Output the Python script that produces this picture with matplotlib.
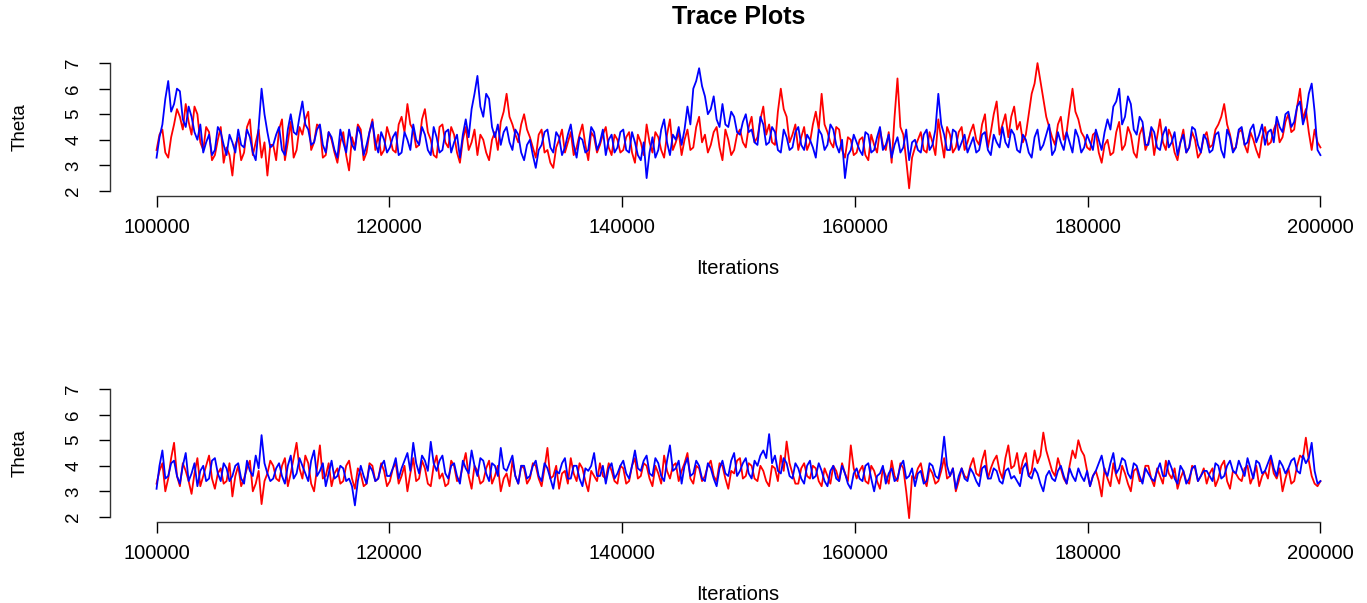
import numpy as np
import matplotlib.pyplot as plt

plt.rcParams['font.family'] = ['Liberation Sans', 'DejaVu Sans']

# trace values, one every 500 iterations (100000, 100500, ...)
theta1_chain1 = [
    3.6, 4.4, 3.3, 4.6, 4.9, 5.4, 4.2, 5.0, 3.6, 4.3, 3.4, 4.5, 3.7, 2.6, 4.1, 3.5, 4.8, 3.9, 3.3, 2.6,
    3.8, 4.4, 3.2, 4.7, 3.6, 4.2, 5.1, 3.9, 4.5, 3.4, 4.0, 3.1, 4.3, 2.8, 3.7, 4.4, 3.5, 4.8, 4.2, 3.6,
    4.1, 3.5, 4.9, 5.4, 4.4, 3.8, 5.2, 4.0, 3.3, 4.6, 3.7, 4.2, 3.1, 4.5, 3.9, 3.4, 4.0, 3.2, 4.3, 4.7,
    5.8, 4.6, 3.9, 5.0, 4.1, 3.3, 4.4, 3.6, 2.9, 4.0, 3.5, 4.3, 3.7, 4.6, 3.2, 4.1, 3.8, 4.5, 3.4, 4.0,
    3.6, 4.3, 3.1, 3.9, 4.6, 3.5, 4.1, 3.3, 4.8, 3.9, 3.4, 4.4, 3.7, 4.9, 4.2, 3.8, 4.5, 3.2, 4.0, 3.6,
    4.4, 3.7, 4.9, 4.1, 5.3, 4.6, 3.8, 6.0, 4.9, 4.2, 3.6, 4.5, 3.9, 5.1, 5.8, 4.3, 3.7, 4.4, 3.3, 4.0,
    3.5, 4.1, 3.2, 3.8, 4.4, 3.6, 3.1, 6.4, 4.2, 2.1, 3.7, 4.3, 3.5, 3.9, 4.8, 3.3, 4.2, 3.7, 4.5, 3.9,
    4.6, 3.8, 5.0, 4.3, 5.5, 4.6, 4.1, 5.3, 4.7, 4.2, 5.8, 7.0, 5.6, 4.5, 3.8, 4.9, 4.3, 6.0, 4.8, 4.1,
    3.6, 4.3, 3.1, 4.0, 3.5, 4.7, 3.8, 4.2, 3.3, 4.5, 3.9, 3.4, 4.8, 3.6, 4.1, 3.2, 4.4, 3.7, 4.0, 3.5,
    4.3, 3.8, 4.6, 5.4, 4.2, 3.7, 4.4, 3.5, 4.0, 3.3, 4.5, 3.9, 4.7, 4.1, 5.0, 4.4, 6.0, 5.2, 3.6, 3.9,
]
# values in between (100250, 100750, ...)
theta1_chain1_mid = [
    4.2, 3.5, 4.1, 5.2, 4.4, 4.7, 5.3, 3.9, 4.5, 3.2, 4.0, 3.1, 3.4, 3.8, 3.2, 4.5, 3.4, 4.4, 3.9, 3.8,
    3.2, 4.8, 3.9, 3.3, 4.5, 4.8, 3.6, 4.6, 3.3, 4.3, 3.5, 3.9, 3.4, 4.1, 4.6, 3.2, 4.3, 3.6, 3.4, 4.5,
    3.6, 4.6, 4.3, 4.6, 3.7, 4.8, 4.3, 3.4, 4.5, 3.9, 4.5, 3.5, 4.0, 3.6, 4.4, 4.2, 3.5, 4.0, 3.6, 5.1,
    4.9, 4.2, 4.6, 4.4, 3.7, 4.2, 3.5, 3.1, 3.7, 4.4, 3.9, 3.4, 4.2, 3.8, 4.3, 3.5, 4.2, 3.7, 4.2, 3.5,
    4.1, 3.5, 4.2, 3.4, 3.9, 4.3, 3.6, 4.2, 3.6, 4.3, 4.0, 3.6, 4.5, 3.9, 3.5, 4.3, 3.7, 4.4, 3.4, 4.2,
    3.9, 4.5, 3.9, 4.8, 4.2, 3.9, 5.1, 5.2, 3.9, 4.6, 4.1, 3.6, 4.6, 4.4, 4.6, 3.9, 4.5, 3.6, 4.1, 3.4,
    4.0, 3.4, 4.2, 3.5, 3.8, 4.3, 4.9, 4.5, 3.2, 3.3, 4.0, 3.6, 4.3, 3.4, 4.0, 4.5, 3.5, 4.3, 3.6, 4.3,
    4.0, 4.6, 3.7, 5.0, 4.2, 5.0, 4.9, 4.4, 3.9, 5.0, 6.2, 6.3, 4.9, 4.1, 4.6, 4.0, 5.2, 5.1, 4.3, 3.7,
    4.2, 3.5, 3.8, 3.4, 4.3, 3.6, 4.5, 3.5, 4.2, 3.6, 4.4, 4.1, 3.9, 4.4, 3.5, 3.9, 3.5, 4.3, 3.3, 4.1,
    3.7, 4.4, 4.9, 4.6, 3.6, 4.3, 3.8, 4.3, 3.6, 4.1, 3.8, 4.4, 3.9, 4.7, 4.3, 5.3, 4.8, 4.3, 4.4, 3.7,
]
theta1_chain2 = [
    3.3, 4.6, 6.3, 5.4, 5.9, 4.5, 4.9, 4.0, 3.5, 4.2, 3.6, 4.3, 3.4, 3.9, 4.4, 3.7, 4.1, 3.2, 6.0, 4.3,
    3.8, 4.5, 3.4, 5.0, 4.2, 5.5, 4.4, 3.9, 4.6, 3.5, 4.1, 3.3, 3.9, 4.4, 3.6, 4.2, 3.8, 4.7, 3.5, 4.0,
    3.7, 4.3, 3.5, 4.0, 4.6, 3.8, 4.2, 3.4, 4.1, 3.6, 4.4, 3.9, 3.3, 4.8, 5.2, 6.5, 4.9, 5.6, 4.1, 3.8,
    4.5, 3.6, 4.2, 3.2, 4.0, 2.9, 3.8, 4.4, 3.5, 4.1, 3.7, 4.6, 3.3, 4.0, 3.6, 4.3, 3.9, 3.4, 4.2, 3.7,
    4.4, 3.5, 3.9, 3.2, 2.5, 4.1, 3.6, 4.8, 3.4, 4.0, 3.8, 5.3, 6.0, 6.8, 5.7, 5.2, 4.8, 5.4, 4.5, 4.9,
    4.2, 5.0, 4.4, 3.8, 4.6, 3.9, 4.3, 3.5, 4.1, 3.7, 4.5, 3.6, 4.0, 3.3, 4.2, 3.8, 4.4, 3.5, 2.5, 3.6,
    3.9, 3.4, 4.2, 3.6, 4.5, 3.8, 3.3, 4.1, 3.7, 3.2, 4.0, 3.5, 4.4, 3.8, 5.8, 4.2, 3.6, 4.3, 3.9, 3.5,
    4.1, 3.6, 4.3, 3.4, 3.9, 4.5, 3.7, 4.2, 3.5, 4.0, 3.3, 4.4, 3.8, 4.6, 3.6, 3.9, 4.3, 3.5, 4.1, 3.7,
    3.9, 4.4, 3.6, 4.8, 5.3, 6.0, 4.9, 5.4, 4.2, 4.7, 3.8, 4.3, 3.6, 4.5, 3.9, 3.4, 4.2, 3.7, 4.4, 3.5,
    4.0, 3.6, 4.3, 3.3, 4.1, 3.7, 4.5, 3.9, 4.6, 4.2, 3.8, 4.4, 4.9, 4.3, 5.1, 4.7, 5.5, 5.0, 6.2, 3.6,
]
theta1_chain2_mid = [
    4.1, 5.6, 5.1, 6.0, 4.8, 5.3, 4.3, 4.6, 3.9, 3.4, 4.5, 3.8, 4.2, 3.5, 3.8, 4.4, 3.5, 4.5, 5.0, 3.7,
    4.2, 3.6, 4.4, 4.3, 4.9, 4.6, 3.8, 4.4, 3.8, 4.3, 3.6, 4.4, 3.5, 3.8, 4.5, 3.4, 4.3, 3.9, 4.3, 3.5,
    4.1, 3.4, 4.3, 3.6, 4.0, 4.5, 3.6, 4.5, 3.5, 4.3, 3.5, 4.2, 4.2, 4.1, 5.8, 5.3, 5.8, 4.5, 4.6, 4.3,
    3.9, 4.4, 3.5, 3.8, 3.4, 3.6, 4.3, 3.7, 4.3, 3.4, 4.2, 3.8, 4.1, 3.5, 4.5, 3.6, 4.4, 4.0, 3.5, 4.3,
    3.6, 4.3, 3.4, 3.9, 3.5, 3.3, 4.4, 3.9, 4.2, 4.5, 4.4, 4.6, 6.3, 6.1, 5.0, 5.7, 4.5, 4.6, 5.1, 4.3,
    4.7, 4.3, 3.9, 4.9, 3.8, 4.5, 3.6, 4.4, 3.6, 4.3, 3.8, 4.2, 3.7, 4.4, 3.6, 4.6, 3.8, 4.0, 3.4, 4.2,
    3.6, 4.3, 3.5, 4.1, 3.6, 4.2, 3.8, 3.5, 4.4, 3.9, 3.6, 4.2, 3.6, 4.4, 4.6, 3.6, 4.4, 3.6, 4.2, 3.8,
    3.5, 4.2, 3.6, 4.2, 3.7, 3.9, 4.4, 3.6, 4.2, 3.5, 4.1, 3.6, 4.2, 3.4, 4.3, 3.6, 3.9, 4.4, 3.5, 4.2,
    3.6, 4.0, 4.3, 4.4, 5.5, 4.6, 5.7, 4.4, 4.9, 3.8, 4.5, 3.7, 4.2, 3.7, 4.3, 3.9, 3.5, 4.5, 3.8, 4.2,
    3.5, 4.2, 3.6, 4.4, 3.5, 4.4, 3.8, 4.4, 3.9, 4.6, 4.3, 3.9, 4.5, 5.0, 4.5, 5.3, 4.6, 5.8, 5.1, 3.4,
]
theta2_chain1 = [
    3.3, 4.1, 3.5, 4.9, 3.2, 3.8, 2.9, 4.3, 3.6, 4.4, 3.1, 3.9, 3.4, 2.8, 4.0, 3.5, 4.2, 3.3, 2.5, 3.7,
    4.0, 3.4, 4.3, 3.7, 4.9, 3.5, 4.1, 3.0, 4.8, 3.6, 3.2, 3.9, 3.4, 4.2, 3.1, 3.7, 3.3, 4.0, 3.5, 3.8,
    3.4, 4.1, 3.6, 3.0, 4.3, 3.5, 3.9, 3.2, 4.4, 3.7, 3.3, 4.0, 3.5, 4.5, 3.1, 3.8, 3.4, 4.2, 3.6, 3.0,
    3.7, 4.2, 3.3, 3.9, 3.5, 4.0, 3.2, 4.7, 3.6, 3.1, 3.8, 4.3, 3.4, 3.9, 3.0, 3.6, 4.1, 3.5, 3.8, 3.3,
    3.9, 3.4, 4.3, 3.6, 4.0, 3.2, 3.7, 4.4, 3.5, 4.1, 3.8, 4.5, 3.3, 3.9, 3.6, 4.2, 3.4, 4.0, 3.1, 3.7,
    4.3, 3.6, 4.0, 3.4, 3.8, 3.2, 3.9, 4.4, 4.95, 3.7, 3.3, 4.1, 3.5, 3.9, 3.2, 3.6, 4.0, 3.4, 3.7, 4.8,
    3.5, 4.0, 3.3, 3.8, 3.1, 3.6, 4.2, 3.4, 3.9, 1.95, 3.5, 4.1, 3.2, 3.7, 3.4, 4.3, 3.6, 3.0, 3.9, 3.5,
    4.3, 3.6, 4.6, 3.9, 4.4, 3.5, 4.8, 4.0, 3.7, 4.5, 3.8, 4.1, 5.3, 4.2, 3.6, 3.9, 3.3, 4.6, 5.0, 4.4,
    3.2, 3.8, 2.8, 3.5, 4.1, 3.3, 3.7, 3.0, 3.9, 3.4, 4.0, 3.2, 3.6, 4.2, 3.5, 3.1, 3.8, 3.3, 3.9, 3.6,
    3.3, 3.9, 3.5, 4.2, 3.1, 3.7, 3.4, 4.0, 3.6, 3.2, 3.8, 4.3, 3.5, 3.0, 3.9, 3.4, 4.4, 5.1, 3.6, 3.2,
]
theta2_chain1_mid = [
    3.8, 3.0, 4.3, 3.6, 4.1, 3.4, 3.7, 3.2, 4.0, 3.5, 3.7, 3.3, 4.1, 3.6, 3.2, 3.9, 3.0, 3.8, 3.4, 4.2,
    3.5, 4.0, 3.2, 4.3, 3.9, 4.4, 3.3, 3.9, 3.5, 4.1, 3.7, 3.3, 4.0, 3.5, 3.9, 3.2, 4.1, 3.4, 4.1, 3.2,
    3.9, 3.3, 4.0, 3.7, 3.4, 4.2, 3.3, 4.0, 3.5, 3.2, 4.2, 3.4, 4.0, 3.6, 4.0, 3.3, 3.9, 3.3, 4.0, 3.5,
    3.2, 3.6, 4.0, 3.3, 4.1, 3.5, 3.9, 3.5, 4.0, 3.7, 3.3, 3.7, 4.1, 3.4, 3.8, 3.4, 3.6, 4.1, 3.4, 4.0,
    3.3, 4.0, 3.5, 4.1, 3.5, 4.0, 3.3, 3.8, 4.0, 3.4, 4.1, 3.5, 4.0, 3.4, 4.0, 3.6, 4.1, 3.5, 3.8, 4.2,
    3.5, 4.1, 3.5, 4.0, 3.4, 4.0, 3.4, 3.8, 4.1, 3.3, 3.9, 3.6, 4.0, 3.4, 3.9, 3.3, 3.8, 4.1, 3.4, 3.9,
    3.8, 3.4, 4.0, 3.4, 3.9, 3.3, 3.6, 4.1, 3.0, 3.6, 3.9, 3.5, 3.9, 3.3, 3.8, 3.5, 3.9, 3.4, 3.6, 4.0,
    3.7, 4.2, 3.5, 4.2, 3.8, 4.3, 3.9, 4.5, 4.2, 3.6, 4.6, 4.4, 4.6, 3.8, 4.3, 3.5, 4.0, 4.3, 4.6, 3.8,
    3.6, 3.4, 3.9, 3.2, 3.6, 4.0, 3.3, 3.8, 3.4, 4.0, 3.5, 3.9, 3.3, 3.7, 3.9, 3.5, 3.4, 4.0, 3.4, 3.9,
    3.7, 3.2, 4.0, 3.4, 3.8, 3.5, 3.9, 3.3, 4.0, 3.6, 3.5, 3.7, 3.9, 3.5, 3.3, 4.0, 4.3, 4.2, 3.3, 3.4,
]
theta2_chain2 = [
    3.1, 4.6, 3.6, 4.2, 3.3, 4.5, 3.7, 3.2, 4.0, 3.5, 4.3, 3.4, 3.9, 3.6, 4.1, 3.3, 3.8, 4.4, 5.2, 3.7,
    3.5, 4.1, 3.3, 4.4, 3.7, 4.0, 3.4, 4.6, 3.8, 3.2, 4.2, 3.6, 3.9, 3.5, 2.45, 4.0, 3.3, 3.8, 3.5, 4.2,
    3.6, 4.3, 3.9, 4.5, 4.9, 3.7, 4.2, 4.94, 3.8, 4.4, 3.5, 4.1, 3.3, 3.9, 4.6, 3.6, 4.2, 3.4, 4.0, 4.7,
    3.8, 4.4, 3.3, 4.0, 3.6, 4.2, 3.4, 3.9, 3.1, 3.7, 4.3, 3.5, 4.0, 3.2, 3.8, 4.5, 3.6, 3.3, 4.1, 3.7,
    4.2, 3.5, 4.6, 3.8, 4.4, 3.6, 4.1, 3.4, 4.8, 3.9, 3.3, 4.3, 3.7, 4.0, 3.4, 3.9, 3.2, 4.2, 3.6, 4.5,
    3.8, 4.3, 3.5, 4.0, 4.6, 5.24, 4.4, 3.7, 4.1, 3.5, 3.9, 3.3, 4.2, 3.6, 3.8, 3.2, 4.0, 3.4, 3.7, 3.1,
    3.9, 3.4, 4.1, 3.0, 3.7, 3.3, 3.9, 3.5, 4.2, 3.6, 3.2, 3.8, 3.4, 4.0, 3.5, 5.14, 3.6, 3.1, 3.9, 3.4,
    3.7, 3.2, 4.0, 3.5, 3.8, 3.3, 3.9, 3.6, 3.2, 4.1, 3.5, 3.7, 3.0, 3.8, 3.4, 4.0, 3.3, 3.6, 3.9, 3.4,
    3.2, 3.8, 4.4, 3.6, 4.5, 3.9, 4.2, 3.5, 4.0, 3.3, 3.7, 3.4, 4.1, 3.6, 3.9, 3.3, 3.8, 3.5, 4.0, 3.6,
    3.8, 3.4, 4.0, 3.6, 4.2, 3.7, 3.9, 4.3, 3.5, 4.1, 3.8, 4.4, 3.6, 4.0, 3.9, 4.3, 3.7, 4.1, 4.9, 3.3,
]
theta2_chain2_mid = [
    4.0, 3.5, 4.1, 3.6, 4.0, 3.4, 4.1, 3.8, 3.4, 4.2, 3.7, 4.1, 3.4, 4.0, 3.5, 4.2, 3.6, 3.9, 4.1, 3.4,
    3.9, 3.6, 4.0, 3.5, 4.3, 3.7, 4.2, 3.6, 4.1, 3.7, 3.5, 4.0, 3.4, 3.2, 3.4, 3.6, 4.0, 3.4, 4.0, 3.6,
    3.9, 3.5, 4.2, 3.8, 4.1, 4.4, 3.8, 4.1, 4.2, 3.7, 4.0, 3.6, 4.2, 3.7, 4.0, 4.3, 3.7, 4.1, 3.6, 3.9,
    4.1, 3.6, 4.0, 3.5, 4.0, 3.6, 4.1, 3.5, 3.8, 4.1, 3.5, 4.0, 3.5, 3.9, 4.0, 3.6, 4.0, 3.9, 3.5, 4.0,
    3.7, 4.0, 3.9, 4.2, 3.7, 4.3, 3.6, 4.2, 3.8, 4.2, 4.0, 3.6, 4.2, 3.5, 4.1, 3.5, 3.9, 3.7, 4.2, 3.6,
    4.1, 3.7, 4.2, 4.4, 4.3, 4.1, 3.8, 4.3, 3.6, 4.1, 3.5, 4.0, 3.5, 4.1, 3.4, 3.8, 3.5, 4.0, 3.3, 3.7,
    3.5, 4.0, 3.5, 3.6, 4.0, 3.7, 3.4, 4.0, 3.5, 3.9, 3.7, 3.3, 4.1, 3.6, 4.1, 4.0, 3.9, 3.6, 3.5, 3.9,
    3.4, 3.9, 3.5, 3.9, 3.4, 3.8, 3.5, 3.4, 3.9, 3.6, 3.9, 3.3, 3.6, 3.5, 3.8, 3.6, 3.9, 3.4, 3.6, 3.8,
    3.6, 4.1, 3.8, 4.1, 3.7, 4.3, 3.7, 4.1, 3.6, 3.9, 3.5, 3.8, 3.6, 4.2, 3.5, 4.0, 3.3, 3.9, 3.4, 3.8,
    3.6, 4.1, 3.5, 4.0, 3.8, 4.2, 3.6, 3.9, 4.2, 3.7, 4.1, 3.9, 4.2, 3.7, 4.2, 3.8, 4.4, 4.3, 3.8, 3.4,
]
xticks = [100000, 120000, 140000, 160000, 180000, 200000]
yticks = [2, 3, 4, 5, 6, 7]


def merge(a, b):
    # put the in-between values back between the main ones
    return np.column_stack([a, b]).ravel()


iters = np.linspace(100000, 200000, 2 * len(theta1_chain1))

W, H = 1367, 603
fig = plt.figure(figsize=(W / 100, H / 100), dpi=100)


def px(x, y):
    return x / W, 1 - y / H


def trace_panel(top, bottom, red, blue, label_y):
    ax = fig.add_axes([110 / W, 1 - bottom / H, (W - 110) / W, (bottom - top) / H])
    ax.plot(iters, red, color='#ff0000', lw=1.3)
    ax.plot(iters, blue, color='#0000ff', lw=1.3)
    ax.set_xlim(96000, 204000)
    ax.set_ylim(1.8, 7.2)
    for s in ['top', 'right']:
        ax.spines[s].set_visible(False)
    ax.spines['left'].set_bounds(2, 7)
    ax.spines['bottom'].set_bounds(100000, 200000)
    for s in ['left', 'bottom']:
        ax.spines[s].set_color('#333333')
        ax.spines[s].set_linewidth(1.0)
    ax.set_xticks(xticks)
    ax.set_xticklabels([str(t) for t in xticks])
    ax.set_yticks(yticks)
    ax.set_yticklabels([str(t) for t in yticks], rotation=90, va='center')
    ax.tick_params(axis='x', length=8, width=1.0, pad=8, labelsize=14.5)
    ax.tick_params(axis='y', length=8, width=1.0, pad=12, labelsize=13.5)
    fig.text(*px(20, (top + bottom) / 2), 'Theta', rotation=90,
             ha='center', va='center', fontsize=13.5)
    fig.text(*px(738, label_y), 'Iterations', ha='center', va='center',
             fontsize=14.5)
    return ax


trace_panel(58, 196, merge(theta1_chain1, theta1_chain1_mid),
            merge(theta1_chain2, theta1_chain2_mid), 268)
trace_panel(384, 522, merge(theta2_chain1, theta2_chain1_mid),
            merge(theta2_chain2, theta2_chain2_mid), 594)

fig.text(*px(739, 17), 'Trace Plots', ha='center', va='center',
         fontsize=18, fontweight='bold')

fig.savefig('out.png', dpi=100)
